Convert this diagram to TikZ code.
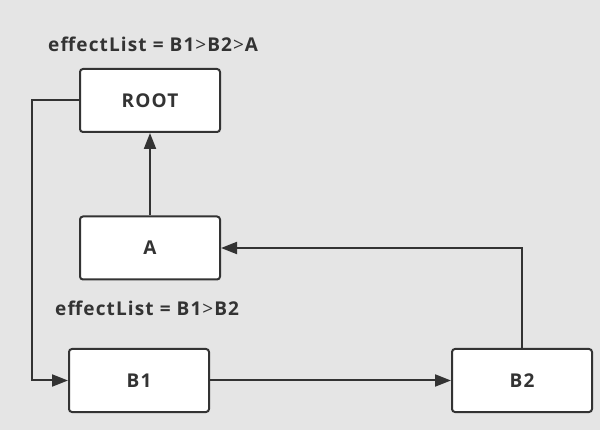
\documentclass[tikz,border=0pt]{standalone}
\usepackage{fontspec}
\setmainfont{Open Sans}[LetterSpace=6]
\usetikzlibrary{arrows.meta}
\newcommand{\gtsym}{\kern1pt{\mdseries>}\kern1pt}
\begin{document}
\begin{tikzpicture}[x=1pt,y=-1pt,
  box/.style={draw=black!80, line width=2pt, fill=white, rounded corners=3pt, minimum width=140pt, minimum height=63pt, inner sep=0pt, font=\bfseries\fontsize{19}{21}\selectfont, text=black!80},
  lbl/.style={font=\bfseries\fontsize{19}{21}\selectfont, text=black!80, inner sep=0pt},
  conn/.style={draw=black!80, line width=2pt, -{Triangle[length=16pt,width=12pt]}}]
\fill[black!10] (0,0) rectangle (600,430);
\useasboundingbox (0,0) rectangle (600,430);
\node[box] (root) at (150,100.5) {ROOT};
\node[box] (a) at (150,248) {A};
\node[box] (b1) at (139,380.5) {B1};
\node[box] (b2) at (522,380.5) {B2};
\node[lbl, anchor=west] (l1) at (48,44) {effectList = B1\gtsym B2\gtsym A};
\node[lbl, anchor=west] (l2) at (55,308) {effectList = B1\gtsym B2};
\coordinate (c1) at (32,100.5);
\coordinate (c2) at (32,380.5);
\coordinate (c3) at (522,248);
\draw[conn] (root.west) -- (c1) -- (c2) -- (b1.west);
\draw[conn] (a.north) -- (root.south);
\draw[conn] (b1.east) -- (b2.west);
\draw[conn] (b2.north) -- (c3) -- (a.east);
\end{tikzpicture}
\end{document}
